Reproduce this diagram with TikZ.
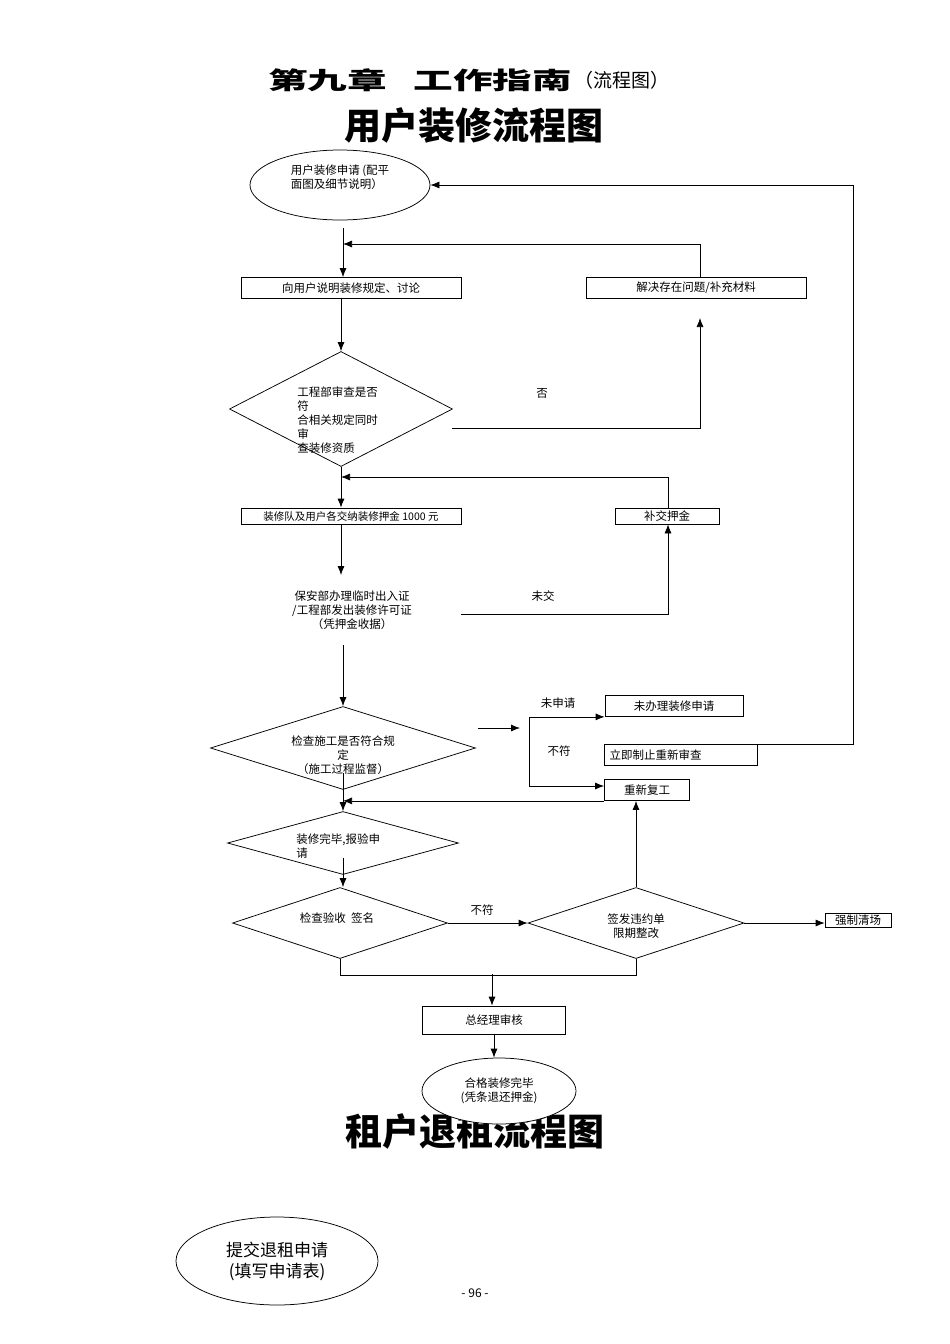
\documentclass[tikz,border=0pt]{standalone}
\usepackage{fontspec}
\usepackage{graphicx}
\setmainfont{Noto Sans CJK SC}
\usetikzlibrary{shapes.geometric,arrows.meta}
\newcommand{\sm}{\fontsize{11.5}{14}\selectfont}
\tikzset{
  box/.style={draw, inner sep=0pt, font=\sm},
  dia/.style={draw, shape=diamond, inner sep=0pt},
  oval/.style={draw, shape=ellipse, inner sep=0pt, fill=white, font=\sm, align=center},
  txt/.style={inner sep=0pt, font=\sm},
  arr/.style={-{Latex[length=9pt,width=7pt]}},
  bigtitle/.style={inner sep=0pt, font=\fontsize{37}{37}\selectfont\bfseries}
}
\begin{document}
\begin{tikzpicture}[x=1pt, y=-1pt, line width=0.75pt]
\useasboundingbox (0,0) rectangle (950,1344);

% titles
\node [inner sep=0pt, anchor=west] (t1) at (268,80) {\scalebox{1.65}[1]{\fontsize{24}{24}\selectfont\bfseries 第九章\hspace{16pt}工作指南}};
\node [inner sep=0pt, anchor=west, font=\fontsize{19}{19}\selectfont] (t1b) at ([xshift=2pt]t1.east) {（流程图）};
\node [bigtitle] (t2) at (474,125) {用户装修流程图};
\node [bigtitle] (t3) at (475,1131) {租户退租流程图};

% first part
\node [oval, minimum width=180, minimum height=70, align=left] (req) at (340,185) {用户装修申请 (配平\\面图及细节说明）\rule[-17pt]{0pt}{1pt}};
\node [box, minimum width=220, minimum height=21] (talk) at (351,288) {向用户说明装修规定、讨论};
\node [box, minimum width=220, minimum height=21] (fix) at (696,288) {解决存在问题/补充材料};
\node [dia, minimum width=223, minimum height=115] (rev) at (341,409) {};
\node [txt, align=left, anchor=north west] (revtext) at (297,386) {工程部审查是否\\符\\合相关规定同时\\审\\查装修资质};
\node [txt] (no1) at (542,393) {否};

\coordinate (c0) at (343,228);
\coordinate (j1) at (343,244);
\coordinate (c2) at (700,318);
\coordinate (c3) at (452,428);
\draw [arr] (c0) -- (c0 |- talk.north);
\draw [arr] ([xshift=4pt]fix.north) |- (j1);
\draw [arr] (rev.north |- talk.south) -- (rev.north);
\draw [arr] (c3) -| (c2);

% deposit
\node [box, minimum width=220, minimum height=16, font=\fontsize{10.5}{12}\selectfont] (dep) at (351,516) {装修队及用户各交纳装修押金 1000 元};
\node [box, minimum width=104, minimum height=16] (pay) at (667,516) {补交押金};
\node [txt, align=center] (permit) at (352,610) {保安部办理临时出入证\\/工程部发出装修许可证\\（凭押金收据）};
\node [txt] (nopay) at (543,596) {未交};

\coordinate (j2) at (341,477);
\coordinate (c4) at (341,575);
\coordinate (c5) at (461,614);
\draw [arr] (rev.south) -- (rev.south |- dep.north);
\draw [arr] ([xshift=1pt]pay.north) |- (j2);
\draw [arr] (rev.south |- dep.south) -- (c4);
\draw [arr] (c5) -| ([xshift=1pt]pay.south);

% inspection
\node [dia, minimum width=265, minimum height=83] (chk) at (343,748) {};
\node [txt, align=center] (chktext) at (343,755) {检查施工是否符合规\\定\\（施工过程监督）};
\node [box, minimum width=138, minimum height=21] (noapp) at (674,706) {未办理装修申请};
\node [box, minimum width=153, minimum height=21, align=left, text width=143] (stop) at (681,755) {立即制止重新审查};
\node [box, minimum width=85, minimum height=21] (resume) at (647,790) {重新复工};
\node [txt] (noapply) at (558,703) {未申请};
\node [txt] (bad1) at (559,751) {不符};

\coordinate (c6) at (343,645);
\coordinate (c7) at (478,728);
\coordinate (c8) at (520,728);
\coordinate (fk) at (529,752);
\draw [arr] (c6) -- (c6 |- chk.north);
\draw [arr] (c7) -- (c8);
\draw [arr] (fk) |- (noapp.south west);
\draw [arr] (fk) |- ([yshift=4pt]resume.west);
\draw [arr] ([xshift=-10pt]stop.north east) -- ++(105,0) |- (req.east);
\draw [arr] (resume.south west) -- (chk.south |- resume.south west);

% acceptance
\node [dia, minimum width=231, minimum height=63] (done) at (343,843) {};
\node [txt, align=left, anchor=north west] (donetext) at (296,833) {装修完毕,报验申\\请};
\node [dia, minimum width=215, minimum height=71] (acc) at (340,923) {};
\node [txt] (acctext) at (337,918) {检查验收\ \ 签名};
\node [dia, minimum width=216, minimum height=71] (fine) at (636,923) {};
\node [txt, align=center] (finetext) at (636,926) {签发违约单\\限期整改};
\node [box, minimum width=66, minimum height=14] (clear) at (858,920) {强制清场};
\node [txt] (bad2) at (482,910) {不符};
\node [box, minimum width=143, minimum height=28] (gm) at (494,1020) {总经理审核};

\coordinate (c11) at (492,974);
\draw [arr] ([yshift=17pt]chk.south) -- (done.north);
\draw [arr] ([yshift=17pt]done.south) -- (done.south |- acc.north);
\draw [arr] (acc.east) -- (fine.west);
\draw [arr] (fine.east) -- (fine.east -| clear.west);
\draw [arr] (fine.north) -- (fine.north |- resume.south);
\draw (acc.south) -- ++(0,16) -| (fine.south);
\draw [arr] (c11) -- (c11 |- gm.north);
\node [oval, minimum width=154, minimum height=66] (ok) at (499,1091) {合格装修完毕\\(凭条退还押金)};
\draw [arr] (gm.south) -- (gm.south |- ok.north);

% second part
\node [oval, minimum width=202, minimum height=88, font=\fontsize{17}{21}\selectfont] (quit) at (277,1261) {提交退租申请\\(填写申请表)};
\node [inner sep=0pt, font=\fontsize{12}{12}\selectfont] (pg) at (475,1293) {- 96 -};
\end{tikzpicture}
\end{document}
